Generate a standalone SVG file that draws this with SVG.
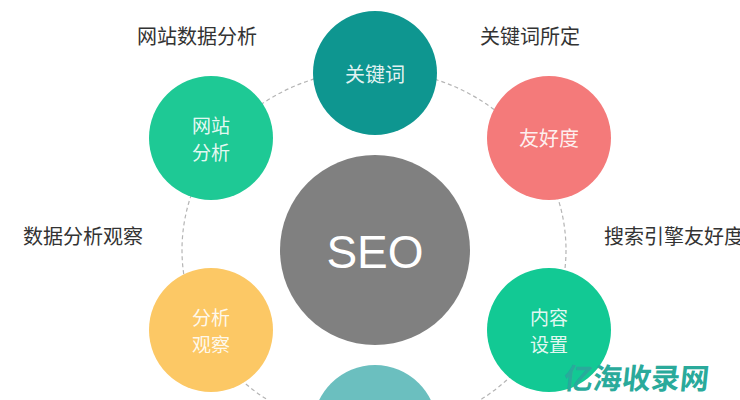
<svg xmlns="http://www.w3.org/2000/svg" width="740" height="400" viewBox="0 0 740 400">
<style>
.lbl{font-family:"Noto Sans CJK SC","Noto Sans",sans-serif;font-size:20px;fill:#333;}
.in{font-family:"Noto Sans CJK SC","Noto Sans",sans-serif;font-size:20px;fill:#ffffff;fill-opacity:0.9;text-anchor:middle;}
.in2{font-family:"Noto Sans CJK SC","Noto Sans",sans-serif;font-size:19px;fill:#ffffff;fill-opacity:0.9;text-anchor:middle;}
.seo{font-family:"Liberation Sans","Noto Sans",sans-serif;font-size:46px;fill:#fff;text-anchor:middle;}
.orbit{fill:none;stroke:#b5b5b5;stroke-width:1.2;stroke-dasharray:4 3;}
</style>
<rect width="740" height="400" fill="#fff"/>
<g id="connectors">
<ellipse class="orbit" cx="374" cy="250" rx="192" ry="180"/>
</g>
<g id="seo"><circle cx="375" cy="250" r="95" fill="#808080"/><text class="seo" x="375" y="268">SEO</text></g>
<g id="keyword"><circle cx="375" cy="73" r="62" fill="#0e9690"/><text class="in" x="375" y="82">关键词</text></g>
<g id="site"><circle cx="211" cy="138" r="62" fill="#1ec995"/><text class="in2" x="211" y="133">网站</text><text class="in2" x="211" y="160">分析</text></g>
<g id="friendly"><circle cx="549" cy="138" r="62" fill="#f47a7a"/><text class="in" x="549" y="146">友好度</text></g>
<g id="observe"><circle cx="211" cy="330" r="62" fill="#fcc865"/><text class="in2" x="211" y="325">分析</text><text class="in2" x="211" y="352">观察</text></g>
<g id="content"><circle cx="549" cy="330" r="62" fill="#12c994"/><text class="in2" x="549" y="325">内容</text><text class="in2" x="549" y="352">设置</text></g>
<g id="bottom"><circle cx="375" cy="427" r="62" fill="#6bbfbf"/></g>
<g id="labels">
<text class="lbl" x="137" y="44">网站数据分析</text>
<text class="lbl" x="480" y="44">关键词所定</text>
<text class="lbl" x="23" y="244">数据分析观察</text>
<text class="lbl" x="604" y="244">搜索引擎友好度</text>
</g>
<text x="564" y="389" font-family="Noto Sans CJK SC,sans-serif" font-weight="bold" font-size="29" fill="#2aaa9b" transform="skewX(-6) translate(40,0)">亿海收录网</text>
</svg>
